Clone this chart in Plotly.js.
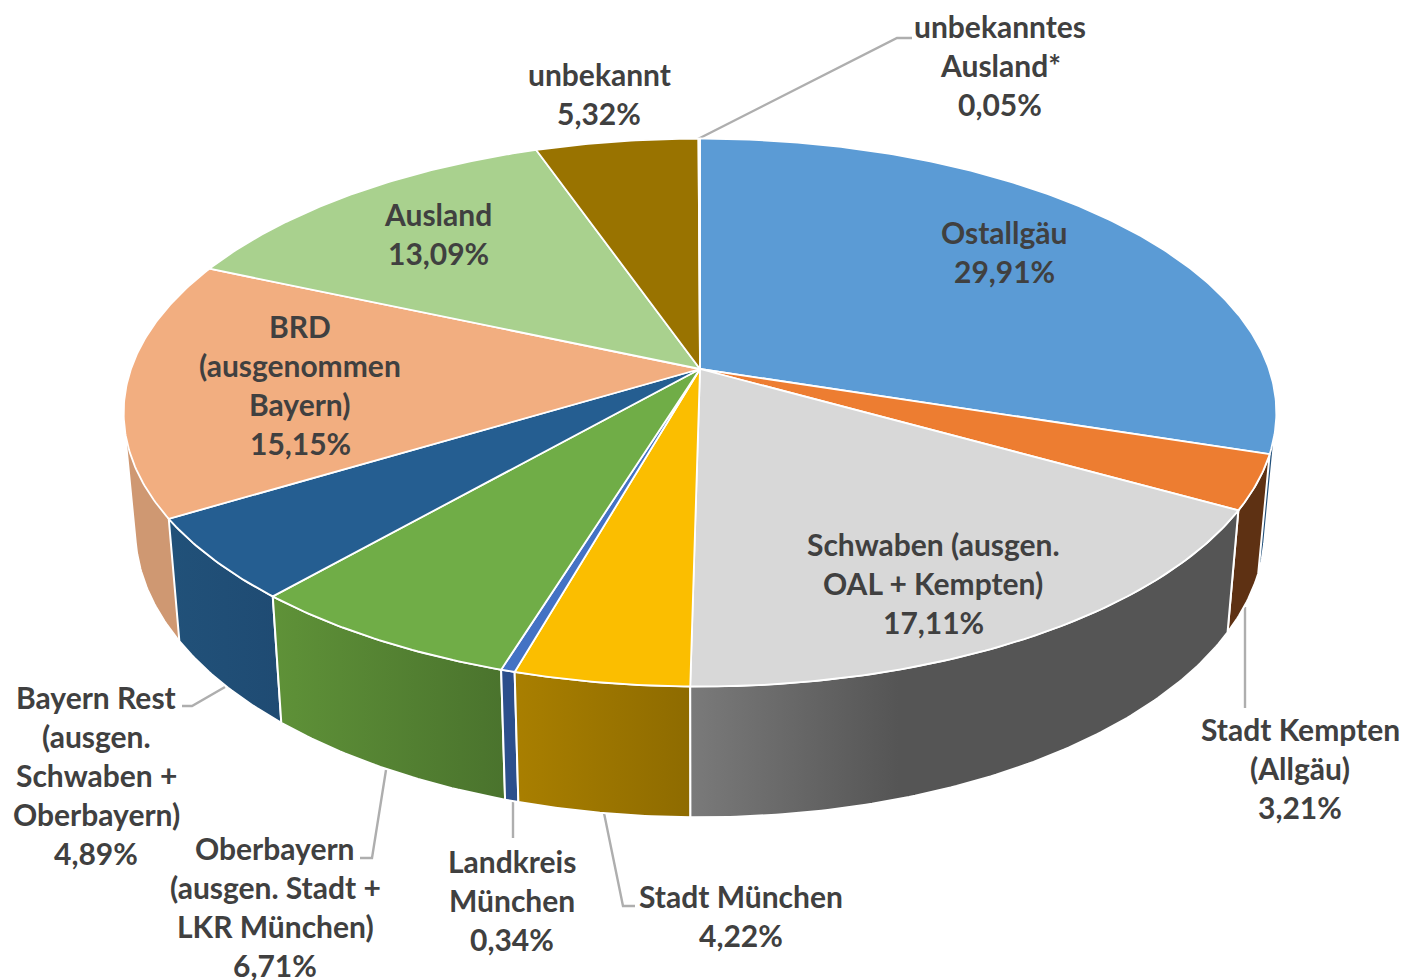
<!DOCTYPE html>
<html><head><meta charset="utf-8">
<script src="https://cdn.plot.ly/plotly-3.0.1.min.js"></script>
<style>html,body{margin:0;padding:0;background:#fff}#c{width:1401px;height:980px}</style>
</head><body><div id="c"></div>
<script>
const categories = ["Ostallgäu","Stadt Kempten (Allgäu)","Schwaben (ausgen. OAL + Kempten)","Stadt München","Landkreis München","Oberbayern (ausgen. Stadt + LKR München)","Bayern Rest (ausgen. Schwaben + Oberbayern)","BRD (ausgenommen Bayern)","Ausland","unbekannt","unbekanntes Ausland*"];
const shares = [29.91,3.21,17.11,4.22,0.34,6.71,4.89,15.15,13.09,5.32,0.05];
const topColors = ["#5B9BD5","#ED7D31","#D8D8D8","#FBBE00","#4472C4","#70AD47","#255E91","#F2AE80","#A9D18E","#997300","#5B9BD5"];
const wallLeft = ["#1F4E79","#5E3113","#7A7A7A","#A97F00","#2C4F8C","#5F9238","#215179","#CF9872","#7F9D6A","#735600","#1F4E79"];
const wallRight = ["#1F4E79","#5E3113","#555555","#8E6B00","#2C4F8C","#4A732D","#1F4B73","#CF9872","#7F9D6A","#735600","#1F4E79"];
const wallFade = [1,1,0.38,1,1,1,1,1,1,1,1];
const labelLines = [["Ostallgäu","29,91%"],["Stadt Kempten","(Allgäu)","3,21%"],["Schwaben (ausgen.","OAL + Kempten)","17,11%"],["Stadt München","4,22%"],["Landkreis","München","0,34%"],["Oberbayern","(ausgen. Stadt +","LKR München)","6,71%"],["Bayern Rest","(ausgen.","Schwaben +","Oberbayern)","4,89%"],["BRD","(ausgenommen","Bayern)","15,15%"],["Ausland","13,09%"],["unbekannt","5,32%"],["unbekanntes","Ausland*","0,05%"]];
const labelX = [1004,1300,933,741,512,275,96,300,438,599,1000];
const labelY = [251,768,583,915,900,906,775,384,233,93,65];
const leaderPaths = ["M698,139L897,38L912,38","M1245,607L1245,708","M225,687L192,706L182,706","M386,770L372,858L360,858","M513,802L513,838","M604,813L623,906L635,906"];

// perspective projection of the pie disc onto the page
const CX=700, CY=369, A=569, B=267, K=0.159, LINE=39;
const rimX=0.98, rimY=1.05, rimCY=484;
const proj=t=>{const s=Math.sin(t),c=Math.cos(t),d=1+K*c;return [A*s/d,-B*c/d];};
const top_=t=>{const p=proj(t);return [CX+p[0],CY+p[1]];};
const bot_=t=>{const p=proj(t);return [CX+rimX*p[0],rimCY+rimY*p[1]];};
const total=shares.reduce((a,b)=>a+b,0);
let run=0;
const spans=shares.map(v=>{const a=run/total*2*Math.PI;run+=v;return [a,run/total*2*Math.PI];});
const arc=(a,b,f)=>{const n=Math.max(2,Math.ceil((b-a)/0.01));const o=[];for(let i=0;i<=n;i++)o.push(f(a+(b-a)*i/n));return o;};
// convex hull: slices that reach the silhouette need the tangent edge of the cylinder
const hull=ps=>{
  const s=ps.slice().sort((p,q)=>p[0]-q[0]||p[1]-q[1]);
  const cr=(o,a,b)=>(a[0]-o[0])*(b[1]-o[1])-(a[1]-o[1])*(b[0]-o[0]);
  const lo=[],up=[];
  s.forEach(p=>{while(lo.length>1&&cr(lo[lo.length-2],lo[lo.length-1],p)<=0)lo.pop();lo.push(p);});
  s.slice().reverse().forEach(p=>{while(up.length>1&&cr(up[up.length-2],up[up.length-1],p)<=0)up.pop();up.push(p);});
  lo.pop();up.pop();return lo.concat(up);
};
const traces=[];
const silhouetteSlices=[0,7];
const wallOrder=[0,7,6,1,5,4,3,2];
wallOrder.forEach(i=>{
  const [a,b]=spans[i];
  let pts=arc(a,b,top_).concat(arc(a,b,bot_).reverse());
  if(silhouetteSlices.includes(i)) pts=hull(pts);
  pts.push(pts[0]);
  traces.push({type:"scatter",mode:"lines",x:pts.map(p=>p[0]),y:pts.map(p=>p[1]),
    fill:"toself",line:{color:"#fff",width:2},hoverinfo:"text",text:categories[i],
    fillgradient:{type:"horizontal",colorscale:[[0,wallLeft[i]],[wallFade[i],wallRight[i]]].concat(wallFade[i]<1?[[1,wallRight[i]]]:[])}});
});
shares.forEach((v,i)=>{
  const [a,b]=spans[i];
  const pts=[[CX,CY]].concat(arc(a,b,top_));
  pts.push([CX,CY]);
  traces.push({type:"scatter",mode:"lines",x:pts.map(p=>p[0]),y:pts.map(p=>p[1]),
    fill:"toself",fillcolor:topColors[i],line:{color:"#fff",width:1.8},hoverinfo:"text",text:categories[i]+": "+v});
});
const font={family:"Lato, 'Noto Sans', sans-serif",size:30,color:"#404040",weight:700};
const annotations=[];
labelLines.forEach((lines,i)=>lines.forEach((t,j)=>annotations.push({text:t,x:labelX[i],y:labelY[i]+(j-(lines.length-1)/2)*LINE,
  xref:"x",yref:"y",xanchor:"center",yanchor:"middle",showarrow:false,font,align:"center"})));
const shapes=leaderPaths.map(p=>({type:"path",path:p,xref:"x",yref:"y",layer:"below",line:{color:"#AEAEAE",width:2.4}}));
const ax={visible:false,fixedrange:true,showgrid:false,zeroline:false};
Plotly.newPlot("c",traces,{
  width:1401,height:980,margin:{l:0,r:0,t:0,b:0},showlegend:false,paper_bgcolor:"#fff",plot_bgcolor:"#fff",
  xaxis:{...ax,range:[0,1401]},yaxis:{...ax,range:[980,0]},annotations,shapes
},{displayModeBar:false});
</script></body></html>
